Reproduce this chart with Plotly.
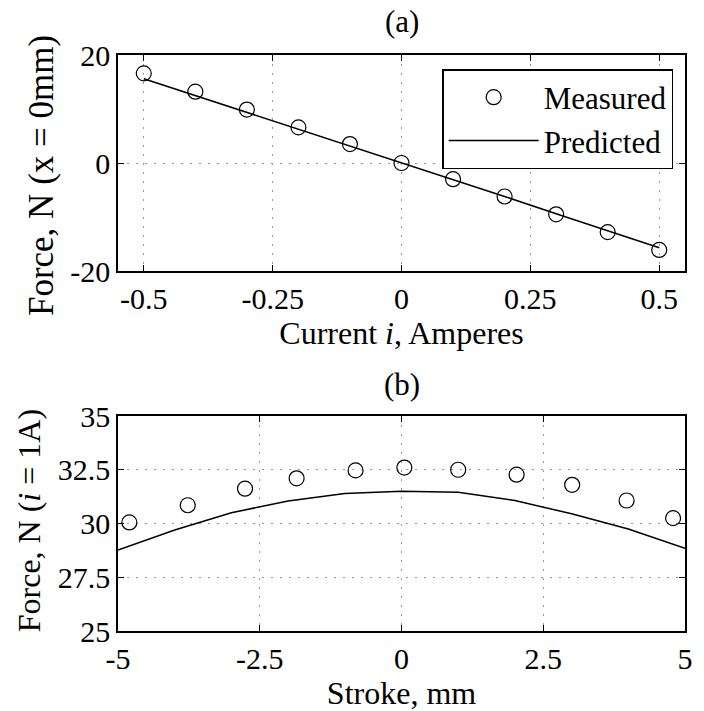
import plotly.graph_objects as go

# Panel (a): force vs current at x = 0 mm
current = [-0.5, -0.4, -0.3, -0.2, -0.1, 0.0, 0.1, 0.2, 0.3, 0.4, 0.5]
force_a_measured = [16.6, 13.2, 9.9, 6.6, 3.5, 0.0, -3.0, -6.2, -9.5, -12.8, -16.1]
force_a_predicted = [15.6, 12.5, 9.4, 6.2, 3.1, 0.0, -3.1, -6.2, -9.4, -12.5, -15.7]

# Panel (b): force vs stroke at i = 1 A
stroke_measured = [-4.8, -3.77, -2.76, -1.85, -0.81, 0.05, 1.0, 2.03, 3.01, 3.97, 4.79]
force_b_measured = [30.05, 30.85, 31.62, 32.1, 32.47, 32.6, 32.5, 32.27, 31.8, 31.07, 30.25]
stroke_predicted = [-5, -4, -3, -2, -1, 0, 1, 2, 3, 4, 5]
force_b_predicted = [28.77, 29.7, 30.5, 31.05, 31.4, 31.5, 31.45, 31.07, 30.45, 29.74, 28.85]

xticks_a = [-0.5, -0.25, 0, 0.25, 0.5]
xticklabels_a = ["-0.5", "-0.25", "0", "0.25", "0.5"]
yticks_a = [-20, 0, 20]
yticklabels_a = ["-20", "0", "20"]
xticks_b = [-5, -2.5, 0, 2.5, 5]
xticklabels_b = ["-5", "-2.5", "0", "2.5", "5"]
yticks_b = [25, 27.5, 30, 32.5, 35]
yticklabels_b = ["25", "27.5", "30", "32.5", "35"]

FONT = "Liberation Serif, Times New Roman, Times, serif"
FS_TICK = 30
FS_TITLE = 32

fig = go.Figure()
marker = dict(symbol="circle-open", size=15, color="black", line=dict(width=1.2, color="black"))

fig.add_trace(go.Scatter(x=current, y=force_a_measured, mode="markers", marker=marker,
                         name="Measured", xaxis="x", yaxis="y"))
fig.add_trace(go.Scatter(x=current, y=force_a_predicted, mode="lines",
                         line=dict(color="black", width=1.5), name="Predicted", xaxis="x", yaxis="y"))
fig.add_trace(go.Scatter(x=stroke_measured, y=force_b_measured, mode="markers", marker=marker,
                         showlegend=False, xaxis="x2", yaxis="y2"))
fig.add_trace(go.Scatter(x=stroke_predicted, y=force_b_predicted, mode="lines",
                         line=dict(color="black", width=1.5), showlegend=False, xaxis="x2", yaxis="y2"))

axis_common = dict(showline=True, linecolor="black", linewidth=1.5, mirror="ticks",
                   ticks="inside", ticklen=6, tickcolor="black", tickwidth=1,
                   showgrid=True, gridcolor="#999999", griddash="2px,7px", gridwidth=1,
                   zeroline=False, tickfont=dict(family=FONT, size=FS_TICK, color="black"))

T, B = 55, 80
plot_h = 711 - T - B
L, R = 118, 11
plot_w = 704 - L - R


def py(pix):
    return (711 - B - pix) / plot_h


def px(pix):
    return (pix - L) / plot_w


fig.update_layout(
    width=704, height=711,
    margin=dict(l=L, r=R, t=T, b=B),
    paper_bgcolor="white", plot_bgcolor="white",
    font=dict(family=FONT, size=FS_TICK, color="black"),
    xaxis=dict(domain=[0, 1], anchor="y", range=[-0.55, 0.55], tickvals=xticks_a,
               ticktext=xticklabels_a,
               title=dict(text="Current <i>i</i>, Amperes", standoff=0,
                          font=dict(family=FONT, size=FS_TITLE)), **axis_common),
    yaxis=dict(domain=[py(271), 1], anchor="x", range=[-20, 20], tickvals=yticks_a,
               ticktext=yticklabels_a, **axis_common),
    xaxis2=dict(domain=[0, 1], anchor="y2", range=[-5, 5], tickvals=xticks_b,
                ticktext=xticklabels_b,
                title=dict(text="Stroke, mm", standoff=0,
                           font=dict(family=FONT, size=FS_TITLE)), **axis_common),
    yaxis2=dict(domain=[0, py(416)], anchor="x2", range=[25, 35], tickvals=yticks_b,
                ticktext=yticklabels_b, **axis_common),
    legend=dict(x=px(681), y=py(69), xanchor="right", yanchor="top",
                bordercolor="black", borderwidth=1.5, bgcolor="white",
                font=dict(family=FONT, size=31, color="black"), itemwidth=90,
                tracegroupgap=0),
    annotations=[
        dict(text="(a)", x=px(406), y=py(22), xref="paper", yref="paper",
             xanchor="center", yanchor="middle",
             showarrow=False, font=dict(family=FONT, size=31)),
        dict(text="(b)", x=px(406), y=py(384), xref="paper", yref="paper",
             xanchor="center", yanchor="middle",
             showarrow=False, font=dict(family=FONT, size=31)),
        dict(text="Force, N (x = 0mm)", x=px(40), y=py(176), xref="paper", yref="paper",
             xanchor="center", yanchor="middle", textangle=-90,
             showarrow=False, font=dict(family=FONT, size=35)),
        dict(text="Force, N (<i>i</i> = 1A)", x=px(28), y=py(521), xref="paper", yref="paper",
             xanchor="center", yanchor="middle", textangle=-90,
             showarrow=False, font=dict(family=FONT, size=FS_TITLE)),
    ],
)

fig.write_html("out.html")
